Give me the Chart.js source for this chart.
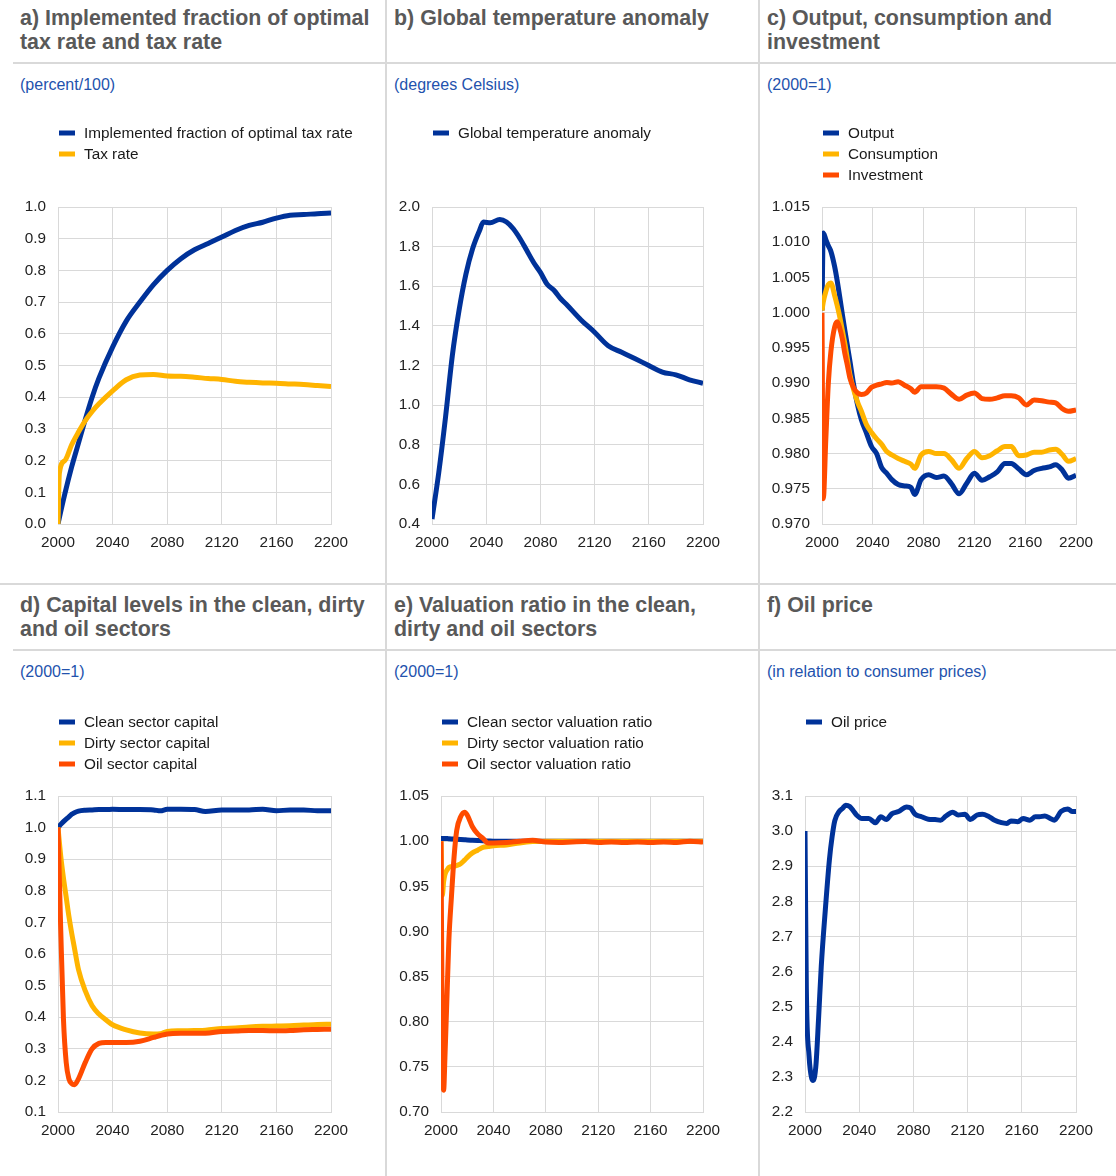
<!DOCTYPE html>
<html>
<head>
<meta charset="utf-8">
<script src="https://cdn.jsdelivr.net/npm/chart.js@4.4.1/dist/chart.umd.min.js"></script>
<style>
  body { margin: 0; background: #fff; width: 1116px; height: 1176px; position: relative; overflow: hidden;
         font-family: "Liberation Sans", Arial, sans-serif; }
  .title { position: absolute; font-weight: bold; font-size: 21.4px; line-height: 24.4px; color: #595959; white-space: nowrap; }
  .sub { position: absolute; font-size: 16px; line-height: 18px; color: #2352ad; white-space: nowrap; }
  .vline { position: absolute; top: 0; width: 1.5px; height: 1176px; background: #d9d9d9; }
  .hline { position: absolute; left: 13px; right: 0; height: 2px; background: #d9d9d9; }
  canvas { position: absolute; }
</style>
</head>
<body>
<div class="vline" style="left:385px"></div>
<div class="vline" style="left:758px"></div>
<div class="hline" style="top:62px"></div>
<div class="hline" style="top:583px; left:0"></div>
<div class="hline" style="top:649px"></div>

<div class="title" style="left:20px; top:6px">a) Implemented fraction of optimal<br>tax rate and tax rate</div>
<div class="title" style="left:394px; top:6px">b) Global temperature anomaly</div>
<div class="title" style="left:767px; top:6px">c) Output, consumption and<br>investment</div>
<div class="title" style="left:20px; top:593px">d) Capital levels in the clean, dirty<br>and oil sectors</div>
<div class="title" style="left:394px; top:593px">e) Valuation ratio in the clean,<br>dirty and oil sectors</div>
<div class="title" style="left:767px; top:593px">f) Oil price</div>

<div class="sub" style="left:20px; top:76px">(percent/100)</div>
<div class="sub" style="left:394px; top:76px">(degrees Celsius)</div>
<div class="sub" style="left:767px; top:76px">(2000=1)</div>
<div class="sub" style="left:20px; top:663px">(2000=1)</div>
<div class="sub" style="left:394px; top:663px">(2000=1)</div>
<div class="sub" style="left:767px; top:663px">(in relation to consumer prices)</div>

<canvas id="chart-a"></canvas>
<canvas id="chart-b"></canvas>
<canvas id="chart-c"></canvas>
<canvas id="chart-d"></canvas>
<canvas id="chart-e"></canvas>
<canvas id="chart-f"></canvas>

<script>
const BLUE = '#003299'
const YELLOW = '#ffb400'
const ORANGE = '#ff4b00'
const gridColor = '#d9d9d9'

const xTicks = [2000, 2040, 2080, 2120, 2160, 2200]

// a) implemented fraction / tax rate
const yearsA = [2000, 2001, 2005, 2010, 2015, 2020, 2025, 2030, 2040, 2050, 2060, 2070, 2080, 2090, 2100, 2110, 2120, 2130, 2140, 2150, 2160, 2170, 2180, 2190, 2200]
const implementedFraction = [0, 0.02, 0.095, 0.18, 0.255, 0.33, 0.40, 0.46, 0.558, 0.64, 0.70, 0.755, 0.80, 0.837, 0.865, 0.885, 0.905, 0.926, 0.942, 0.952, 0.965, 0.974, 0.976, 0.979, 0.981]
const taxRate = [0, 0.16, 0.2, 0.25, 0.29, 0.326, 0.355, 0.379, 0.42, 0.455, 0.47, 0.472, 0.467, 0.466, 0.463, 0.459, 0.456, 0.45, 0.447, 0.445, 0.444, 0.442, 0.44, 0.437, 0.434]
const yTicksA = [0, 0.1, 0.2, 0.3, 0.4, 0.5, 0.6, 0.7, 0.8, 0.9, 1.0]

// b) temperature anomaly
const yearsB = [2000, 2005, 2010, 2015, 2020, 2025, 2030, 2035, 2038, 2043, 2050, 2055, 2060, 2065, 2070, 2075, 2080, 2085, 2090, 2095, 2100, 2110, 2120, 2130, 2140, 2150, 2160, 2170, 2180, 2190, 2200]
const tempAnomaly = [0.425, 0.66, 0.94, 1.25, 1.48, 1.66, 1.79, 1.88, 1.924, 1.92, 1.937, 1.924, 1.89, 1.84, 1.78, 1.72, 1.67, 1.61, 1.58, 1.537, 1.503, 1.43, 1.368, 1.30, 1.267, 1.234, 1.20, 1.167, 1.153, 1.128, 1.11]
const yTicksB = [0.4, 0.6, 0.8, 1.0, 1.2, 1.4, 1.6, 1.8, 2.0]

// c) output, consumption, investment
const yearsC = [2000, 2001, 2003, 2005, 2007, 2010, 2012, 2014, 2016, 2018, 2020, 2022, 2025, 2028, 2031, 2035, 2039, 2043, 2047, 2051, 2055, 2060, 2065, 2070, 2073, 2078, 2084, 2090, 2096, 2102, 2108, 2114, 2120, 2126, 2132, 2138, 2144, 2149, 2155, 2161, 2167, 2173, 2179, 2184, 2189, 2194, 2200]
const output = [1.0003, 1.0113, 1.0104, 1.0095, 1.0087, 1.0065, 1.0045, 1.0022, 0.9998, 0.9975, 0.9953, 0.9931, 0.9897, 0.9869, 0.9848, 0.9829, 0.981, 0.980, 0.978, 0.9772, 0.9763, 0.9756, 0.9754, 0.9752, 0.9742, 0.9763, 0.977, 0.9766, 0.9768, 0.9757, 0.9743, 0.9758, 0.9772, 0.9762, 0.9767, 0.9774, 0.9786, 0.9786, 0.9778, 0.977, 0.9776, 0.9779, 0.9781, 0.9784, 0.9777, 0.9765, 0.9769]
const consumption = [1.0003, 1.0015, 1.003, 1.004, 1.0042, 1.0024, 1.001, 0.9994, 0.9975, 0.9956, 0.9934, 0.9912, 0.989, 0.9873, 0.986, 0.9841, 0.983, 0.9821, 0.9813, 0.9803, 0.9798, 0.9793, 0.9789, 0.9785, 0.9779, 0.9798, 0.9803, 0.98, 0.98, 0.9791, 0.9779, 0.9793, 0.9803, 0.9794, 0.9797, 0.9804, 0.981, 0.981, 0.9797, 0.9798, 0.9802, 0.9802, 0.9805, 0.9806, 0.9799, 0.9789, 0.9793]
const investment = [1.0, 0.9736, 0.982, 0.990, 0.9945, 0.998, 0.9987, 0.9978, 0.9963, 0.9942, 0.9925, 0.9907, 0.9893, 0.9886, 0.9884, 0.9886, 0.9894, 0.9897, 0.9899, 0.9901, 0.990, 0.9902, 0.9897, 0.9892, 0.9887, 0.9895, 0.9895, 0.9895, 0.9893, 0.9884, 0.9877, 0.9883, 0.9886, 0.9878, 0.9877, 0.9879, 0.9882, 0.9882, 0.9879, 0.9869, 0.9876, 0.9875, 0.9873, 0.9872, 0.9864, 0.986, 0.9862]
const yTicksC = [0.970, 0.975, 0.980, 0.985, 0.990, 0.995, 1.000, 1.005, 1.010, 1.015]

// d) capital levels
const yearsD = [2000, 2002, 2004, 2006, 2008, 2010, 2012, 2015, 2020, 2025, 2030, 2035, 2040, 2050, 2060, 2070, 2075, 2080, 2090, 2100, 2108, 2120, 2130, 2140, 2150, 2160, 2170, 2180, 2190, 2200]
const cleanCapital = [1.0, 1.01, 1.019, 1.027, 1.034, 1.042, 1.047, 1.052, 1.055, 1.056, 1.057, 1.057, 1.058, 1.057, 1.057, 1.056, 1.053, 1.058, 1.058, 1.057, 1.051, 1.056, 1.056, 1.056, 1.058, 1.053, 1.056, 1.056, 1.053, 1.053]
const dirtyCapital = [1.0, 0.91, 0.84, 0.78, 0.719, 0.667, 0.62, 0.551, 0.483, 0.436, 0.41, 0.392, 0.376, 0.36, 0.35, 0.347, 0.348, 0.355, 0.357, 0.358, 0.359, 0.364, 0.366, 0.369, 0.371, 0.372, 0.373, 0.375, 0.377, 0.378]
const oilCapital = [1.0, 0.677, 0.394, 0.257, 0.205, 0.19, 0.186, 0.205, 0.257, 0.3, 0.317, 0.32, 0.32, 0.32, 0.324, 0.336, 0.342, 0.347, 0.349, 0.349, 0.349, 0.355, 0.356, 0.358, 0.358, 0.357, 0.358, 0.36, 0.361, 0.362]
const yTicksD = [0.1, 0.2, 0.3, 0.4, 0.5, 0.6, 0.7, 0.8, 0.9, 1.0, 1.1]

// e) valuation ratios
const yearsE = [2000, 2001, 2002, 2003, 2005, 2006, 2008, 2010, 2012, 2015, 2018, 2020, 2024, 2028, 2032, 2036, 2040, 2050, 2060, 2070, 2080, 2090, 2100, 2110, 2120, 2130, 2140, 2150, 2160, 2170, 2180, 2190, 2200]
const cleanValuation = [1.003, 1.003, 1.003, 1.003, 1.0028, 1.0027, 1.0025, 1.0023, 1.0021, 1.0018, 1.0015, 1.0013, 1.001, 1.0007, 1.0004, 1.0002, 1.0, 1.0, 1.0, 1.0, 1.0, 1.0, 1.0, 1.0, 1.0, 1.0, 1.0, 1.0, 1.0, 1.0, 1.0, 1.0, 1.0]
const dirtyValuation = [1.0, 0.94, 0.955, 0.963, 0.969, 0.971, 0.972, 0.972, 0.973, 0.975, 0.979, 0.982, 0.987, 0.99, 0.993, 0.994, 0.995, 0.9958, 0.998, 0.9995, 1.0, 1.0, 1.0, 1.0, 1.0, 1.0, 1.0, 1.0, 1.0, 1.0, 1.0, 1.0, 1.0]
const oilValuation = [1.0, 0.78, 0.724, 0.76, 0.847, 0.89, 0.939, 0.983, 1.012, 1.027, 1.032, 1.029, 1.016, 1.008, 1.003, 0.998, 0.998, 0.9985, 1.0, 1.001, 0.999, 0.9985, 0.999, 0.9995, 0.9985, 0.999, 0.9985, 0.999, 0.9985, 0.999, 0.9985, 1.0, 0.999]
const yTicksE = [0.70, 0.75, 0.80, 0.85, 0.90, 0.95, 1.00, 1.05]

// f) oil price
const yearsF = [2000, 2001, 2003, 2005, 2006, 2008, 2010, 2012, 2015, 2018, 2020, 2022, 2025, 2028, 2030, 2033, 2036, 2038, 2042, 2047, 2052, 2056, 2060, 2064, 2069, 2075, 2078, 2081, 2086, 2091, 2096, 2100, 2104, 2109, 2113, 2118, 2122, 2127, 2131, 2135, 2140, 2145, 2149, 2152, 2157, 2161, 2166, 2170, 2173, 2177, 2181, 2184, 2189, 2194, 2197, 2200]
const oilPrice = [3.0, 2.55, 2.36, 2.295, 2.29, 2.33, 2.465, 2.615, 2.776, 2.918, 2.984, 3.03, 3.055, 3.066, 3.074, 3.07, 3.056, 3.046, 3.036, 3.036, 3.024, 3.041, 3.033, 3.049, 3.056, 3.069, 3.066, 3.049, 3.041, 3.034, 3.033, 3.031, 3.043, 3.054, 3.046, 3.048, 3.033, 3.046, 3.048, 3.043, 3.031, 3.024, 3.022, 3.029, 3.027, 3.036, 3.031, 3.041, 3.041, 3.043, 3.036, 3.031, 3.056, 3.063, 3.056, 3.056]
const yTicksF = [2.2, 2.3, 2.4, 2.5, 2.6, 2.7, 2.8, 2.9, 3.0, 3.1]

Chart.defaults.font.family = '"Liberation Sans", Arial, sans-serif'

// page geometry
const rows = [
    { canvasTop: 110, plotTop: 207, plotBottom: 524 },
    { canvasTop: 699, plotTop: 796, plotBottom: 1112 }
]
const cols = [
    { left: 0, width: 380 },
    { left: 386, width: 374 },
    { left: 760, width: 356 }
]

// legend stacked vertically above the plot, like the original
const stackLegend = {
    id: 'stackLegend',
    afterDraw(chart) {
        const ctx = chart.ctx
        const left = chart.chartArea.left
        ctx.save()
        ctx.font = '15.3px "Liberation Sans", Arial, sans-serif'
        ctx.textBaseline = 'middle'
        chart.data.datasets.forEach((ds, i) => {
            const y = 23 + i * 21
            ctx.fillStyle = ds.borderColor
            ctx.fillRect(left + 1, y - 2.5, 16, 5)
            ctx.fillStyle = '#1a1a1a'
            ctx.fillText(ds.label, left + 26, y + 0.5)
        })
        ctx.restore()
    }
}

function makePanel(id, col, row, plotLeft, plotRight, years, series, yTicks, decimals) {
    const cv = document.getElementById(id)
    const r = rows[row], c = cols[col]
    cv.width = c.width
    cv.height = r.plotBottom - r.canvasTop + 40
    cv.style.left = c.left + 'px'
    cv.style.top = r.canvasTop + 'px'

    new Chart(cv, {
        type: 'line',
        data: {
            datasets: series.map((s, i) => ({
                label: s.label,
                data: years.map((yr, k) => ({ x: yr, y: s.values[k] })),
                borderColor: s.color,
                backgroundColor: s.color,
                borderWidth: 5,
                pointRadius: 0,
                cubicInterpolationMode: 'monotone',
                order: -i
            }))
        },
        options: {
            responsive: false,
            animation: false,
            devicePixelRatio: 1,
            layout: {
                padding: { top: r.plotTop - r.canvasTop, right: c.left + c.width - plotRight, left: 0, bottom: 0 }
            },
            plugins: {
                legend: { display: false },
                tooltip: { enabled: false }
            },
            scales: {
                x: {
                    type: 'linear',
                    min: 2000,
                    max: 2200,
                    afterBuildTicks: s => { s.ticks = xTicks.map(v => ({ value: v })) },
                    afterFit: s => { s.height = 40 },
                    grid: { color: gridColor, drawTicks: false },
                    border: { color: gridColor },
                    ticks: { padding: 10, color: '#222', font: { size: 15.3 }, maxRotation: 0, autoSkip: false, callback: v => String(v) }
                },
                y: {
                    min: yTicks[0],
                    max: yTicks[yTicks.length - 1],
                    afterBuildTicks: s => { s.ticks = yTicks.map(v => ({ value: v })) },
                    afterFit: s => { s.width = plotLeft - c.left },
                    grid: { color: gridColor, drawTicks: false },
                    border: { color: gridColor },
                    ticks: { padding: 12, color: '#222', font: { size: 15.3 }, autoSkip: false, callback: v => Number(v).toFixed(decimals) }
                }
            }
        },
        plugins: [stackLegend]
    })
}

makePanel('chart-a', 0, 0, 58, 331, yearsA, [
    { label: 'Implemented fraction of optimal tax rate', values: implementedFraction, color: BLUE },
    { label: 'Tax rate', values: taxRate, color: YELLOW }
], yTicksA, 1)

makePanel('chart-b', 1, 0, 432, 703, yearsB, [
    { label: 'Global temperature anomaly', values: tempAnomaly, color: BLUE }
], yTicksB, 1)

makePanel('chart-c', 2, 0, 822, 1076, yearsC, [
    { label: 'Output', values: output, color: BLUE },
    { label: 'Consumption', values: consumption, color: YELLOW },
    { label: 'Investment', values: investment, color: ORANGE }
], yTicksC, 3)

makePanel('chart-d', 0, 1, 58, 331, yearsD, [
    { label: 'Clean sector capital', values: cleanCapital, color: BLUE },
    { label: 'Dirty sector capital', values: dirtyCapital, color: YELLOW },
    { label: 'Oil sector capital', values: oilCapital, color: ORANGE }
], yTicksD, 1)

makePanel('chart-e', 1, 1, 441, 703, yearsE, [
    { label: 'Clean sector valuation ratio', values: cleanValuation, color: BLUE },
    { label: 'Dirty sector valuation ratio', values: dirtyValuation, color: YELLOW },
    { label: 'Oil sector valuation ratio', values: oilValuation, color: ORANGE }
], yTicksE, 2)

makePanel('chart-f', 2, 1, 805, 1076, yearsF, [
    { label: 'Oil price', values: oilPrice, color: BLUE }
], yTicksF, 1)
</script>
</body>
</html>
